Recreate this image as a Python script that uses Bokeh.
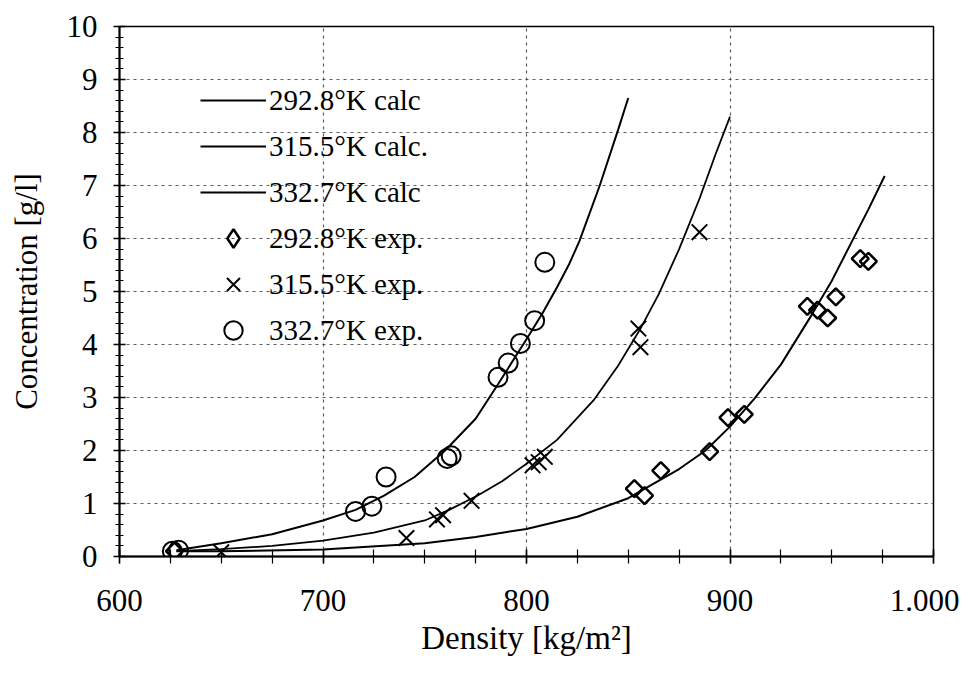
import numpy as np
from bokeh.plotting import figure
from bokeh.models import Range1d, SingleIntervalTicker, Legend, LegendItem
from bokeh.embed import file_html
from bokeh.resources import INLINE

FONT = "Liberation Serif"

# --- calculated curves ---
calc_2928_x = [628, 650, 700, 750, 775, 800, 825, 850, 875, 888, 900, 912, 925, 940, 950, 960, 968, 976]
calc_2928_y = [0.1, 0.1, 0.13, 0.25, 0.37, 0.52, 0.75, 1.1, 1.65, 2.0, 2.45, 2.98, 3.62, 4.55, 5.2, 5.95, 6.55, 7.18]

calc_3155_x = [628, 650, 675, 700, 725, 750, 762, 776, 788, 800, 815, 833, 845, 856, 865, 875, 885, 893, 900]
calc_3155_y = [0.1, 0.14, 0.2, 0.3, 0.45, 0.68, 0.88, 1.15, 1.42, 1.75, 2.2, 2.95, 3.6, 4.3, 4.95, 5.8, 6.75, 7.6, 8.3]

calc_3327_x = [628, 650, 675, 700, 716, 730, 745, 760, 775, 786, 800, 808, 815, 821, 826, 836, 845, 850]
calc_3327_y = [0.12, 0.25, 0.42, 0.68, 0.88, 1.15, 1.5, 2.0, 2.6, 3.25, 4.1, 4.6, 5.08, 5.52, 5.95, 7.0, 8.05, 8.65]

# --- experimental points ---
exp_2928_x = [627, 853, 858, 866, 890, 899, 907, 938, 943, 948, 952, 964, 968]
exp_2928_y = [0.1, 1.28, 1.15, 1.62, 1.98, 2.62, 2.68, 4.72, 4.65, 4.5, 4.9, 5.62, 5.57]

exp_3155_x = [650, 741, 756, 759, 773, 803, 806, 809, 855, 856, 885]
exp_3155_y = [0.08, 0.35, 0.7, 0.78, 1.05, 1.72, 1.78, 1.88, 4.3, 3.95, 6.12]

exp_3327_x = [626, 629, 716, 724, 731, 761, 763, 786, 791, 797, 804, 809]
exp_3327_y = [0.1, 0.12, 0.85, 0.95, 1.5, 1.85, 1.9, 3.38, 3.65, 4.02, 4.45, 5.55]

labels_calc = ["292.8°K calc", "315.5°K calc.", "332.7°K calc"]
labels_exp = ["292.8°K exp.", "315.5°K exp.", "332.7°K exp."]

p = figure(width=959, height=668, output_backend="svg", toolbar_location=None,
           x_range=Range1d(600, 1000), y_range=Range1d(0, 10),
           min_border_left=119, min_border_right=26, min_border_top=26, min_border_bottom=112)

p.background_fill_color = "white"
p.border_fill_color = "white"
p.outline_line_color = "black"
p.outline_line_width = 1.5

# axes
p.xaxis.ticker = SingleIntervalTicker(interval=100, num_minor_ticks=4)
p.yaxis.ticker = SingleIntervalTicker(interval=1, num_minor_ticks=5)
p.xaxis.major_label_overrides = {1000: "1.000"}
for ax in (p.xaxis, p.yaxis):
    ax.axis_line_width = 2
    ax.axis_line_color = "black"
    ax.major_tick_line_color = "black"
    ax.minor_tick_line_color = "black"
    ax.major_tick_line_width = 1.5
    ax.minor_tick_line_width = 1.2
    ax.major_label_text_font = FONT
    ax.major_label_text_font_size = "31px"
    ax.major_label_text_color = "black"
    ax.axis_label_text_font = FONT
    ax.axis_label_text_font_style = "normal"
    ax.axis_label_text_color = "black"
p.xaxis.axis_label_text_font_size = "33px"
p.yaxis.axis_label_text_font_size = "31px"

p.xaxis.major_tick_in = 7
p.xaxis.major_tick_out = 7
p.xaxis.minor_tick_in = 7
p.xaxis.minor_tick_out = 7
p.xaxis.major_label_standoff = 26
p.xaxis.axis_label_standoff = 6
p.xaxis.axis_label = "Density [kg/m²]"

p.yaxis.major_tick_in = 6
p.yaxis.major_tick_out = 6
p.yaxis.minor_tick_in = 4
p.yaxis.minor_tick_out = 4
p.yaxis.major_label_standoff = 16
p.yaxis.axis_label_standoff = 20
p.yaxis.axis_label = "Concentration [g/l]"

# grid
p.xgrid.ticker = SingleIntervalTicker(interval=100)
p.ygrid.ticker = SingleIntervalTicker(interval=1)
for g in (p.xgrid, p.ygrid):
    g.grid_line_color = "#333333"
    g.grid_line_dash = "3 4"
    g.grid_line_width = 1.2
    g.grid_line_alpha = 0.8

# curves
l1 = p.line(calc_2928_x, calc_2928_y, line_color="black", line_width=2)
l2 = p.line(calc_3155_x, calc_3155_y, line_color="black", line_width=1.8)
l3 = p.line(calc_3327_x, calc_3327_y, line_color="black", line_width=2)

# experimental markers
s1 = p.scatter(exp_2928_x, exp_2928_y, marker="square", angle=np.pi / 4, size=12,
               fill_color="white", fill_alpha=0.0, line_color="black", line_width=2.5)
s2 = p.scatter(exp_3155_x, exp_3155_y, marker="x", size=22,
               line_color="black", line_width=2)
s3 = p.scatter(exp_3327_x, exp_3327_y, marker="circle", size=19,
               fill_color="white", fill_alpha=0.0, line_color="black", line_width=2)

# legend-only glyph for the diamond (legend ignores marker angle); NaN point is never drawn in the plot
s1_leg = p.scatter([np.nan], [np.nan], marker="diamond", size=19,
                   fill_color="white", fill_alpha=0.0, line_color="black", line_width=2.5)

items = [LegendItem(label=labels_calc[0], renderers=[l1]),
         LegendItem(label=labels_calc[1], renderers=[l2]),
         LegendItem(label=labels_calc[2], renderers=[l3]),
         LegendItem(label=labels_exp[0], renderers=[s1_leg]),
         LegendItem(label=labels_exp[1], renderers=[s2]),
         LegendItem(label=labels_exp[2], renderers=[s3])]

legend = Legend(items=items, location=(81, 203))
legend.border_line_color = None
legend.background_fill_alpha = 0.0
legend.padding = 0
legend.margin = 0
legend.spacing = 0
legend.glyph_width = 66
legend.glyph_height = 46
legend.label_height = 46
legend.label_standoff = 3
legend.label_text_font = FONT
legend.label_text_font_size = "29px"
legend.label_text_color = "black"
p.add_layout(legend, "center")

open("out.html", "w").write(file_html(p, INLINE))
